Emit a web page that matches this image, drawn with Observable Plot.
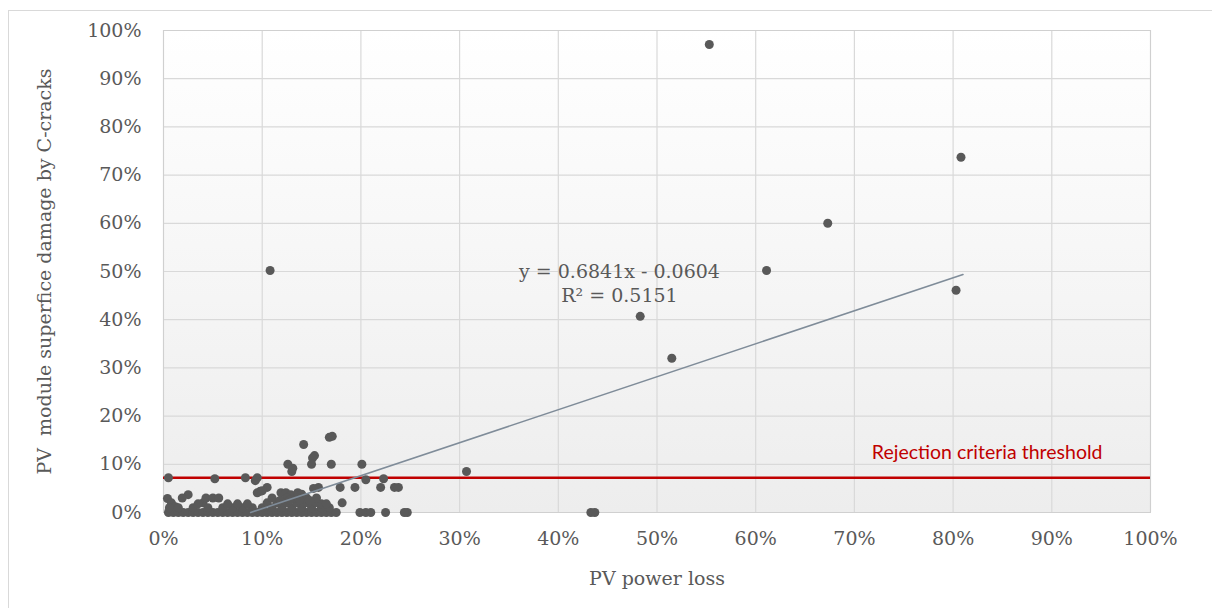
<!DOCTYPE html>
<html>
<head>
<meta charset="utf-8">
<script src="https://cdn.jsdelivr.net/npm/d3@7"></script>
<script src="https://cdn.jsdelivr.net/npm/@observablehq/plot@0.6"></script>
<style>
  html, body { margin: 0; padding: 0; background: #fff; overflow: hidden; }
  #wrap { position: relative; width: 1212px; height: 608px; }
  #border { position: absolute; left: 8px; top: 10px; width: 1230px; height: 640px; border: 1px solid #d9d9d9; box-sizing: border-box; }
  #chart { position: absolute; left: 0; top: 0; }
</style>
</head>
<body>
<div id="wrap"><div id="border"></div><div id="chart"></div></div>
<script>
// PV power loss (x) vs module surface damage by C-cracks (y)
const lossX = [
  0.553, 0.808, 0.673, 0.611, 0.803, 0.483, 0.515, 0.108, 0.307, 0.433, 0.437,
  0.168, 0.171, 0.142, 0.153, 0.151, 0.126, 0.150, 0.170, 0.201, 0.130, 0.131,
  0.205, 0.223, 0.005, 0.052, 0.083, 0.095, 0.093,
  0.179, 0.194, 0.220, 0.234, 0.238, 0.157, 0.152, 0.105, 0.098, 0.181,
  0.199, 0.205, 0.210, 0.225, 0.247, 0.244,
  0.004, 0.025, 0.019, 0.040, 0.043, 0.050, 0.056, 0.008, 0.012,
  0.095, 0.100, 0.119, 0.124, 0.129, 0.136, 0.140,
  0.005, 0.010, 0.015, 0.020, 0.025, 0.030, 0.035, 0.040, 0.045, 0.050, 0.055, 0.060,
  0.065, 0.070, 0.075, 0.080, 0.085, 0.090, 0.095, 0.100, 0.105, 0.110, 0.115, 0.120,
  0.125, 0.130, 0.135, 0.140, 0.145, 0.150, 0.155, 0.160, 0.165, 0.170, 0.175,
  0.006, 0.015, 0.030, 0.045, 0.060, 0.070, 0.080, 0.090, 0.100, 0.110, 0.120, 0.130,
  0.140, 0.150, 0.160, 0.168,
  0.035, 0.065, 0.075, 0.085, 0.105, 0.115, 0.125, 0.135, 0.142, 0.146, 0.155, 0.160, 0.165,
  0.110, 0.125, 0.135, 0.145, 0.155, 0.118, 0.128, 0.138, 0.148
];
const damageY = [
  0.971, 0.737, 0.600, 0.502, 0.461, 0.407, 0.320, 0.502, 0.085, 0.000, 0.000,
  0.156, 0.158, 0.141, 0.118, 0.113, 0.100, 0.100, 0.100, 0.100, 0.085, 0.092,
  0.068, 0.070, 0.072, 0.070, 0.072, 0.072, 0.066,
  0.052, 0.052, 0.052, 0.052, 0.052, 0.052, 0.050, 0.052, 0.044, 0.020,
  0.000, 0.000, 0.000, 0.000, 0.000, 0.000,
  0.029, 0.037, 0.030, 0.020, 0.030, 0.030, 0.030, 0.020, 0.012,
  0.041, 0.045, 0.041, 0.041, 0.037, 0.041, 0.038,
  0.000, 0.000, 0.000, 0.000, 0.000, 0.000, 0.000, 0.000, 0.000, 0.000, 0.000, 0.000,
  0.000, 0.000, 0.000, 0.000, 0.000, 0.000, 0.000, 0.000, 0.000, 0.000, 0.000, 0.000,
  0.000, 0.000, 0.000, 0.000, 0.000, 0.000, 0.000, 0.000, 0.000, 0.000, 0.000,
  0.010, 0.010, 0.010, 0.010, 0.010, 0.010, 0.010, 0.010, 0.010, 0.010, 0.010, 0.010,
  0.010, 0.010, 0.010, 0.010,
  0.018, 0.018, 0.018, 0.018, 0.020, 0.020, 0.020, 0.020, 0.020, 0.020, 0.020, 0.018, 0.018,
  0.030, 0.030, 0.030, 0.030, 0.030, 0.025, 0.026, 0.026, 0.025
];
const points = lossX.map((x, i) => ({x, y: damageY[i]}));

const xTicks = [0, 0.1, 0.2, 0.3, 0.4, 0.5, 0.6, 0.7, 0.8, 0.9, 1];
const yTicks = [0, 0.1, 0.2, 0.3, 0.4, 0.5, 0.6, 0.7, 0.8, 0.9, 1];

// Linear trend (Excel): y = 0.6841x - 0.0604, R² = 0.5151
const trendSlope = [0.6841];
const trendIntercept = [-0.0604];
const trendRangeX = [0.0883, 0.81];
const trendLine = trendRangeX.map(x => ({x, y: trendSlope[0] * x + trendIntercept[0]}));
const trendLabel = ["y = 0.6841x - 0.0604", "R² = 0.5151"];
const trendLabelPos = [{x: 0.462, y: 0.5}, {x: 0.462, y: 0.45}];

const thresholdY = [0.072];
const thresholdLabel = ["Rejection criteria threshold"];
const thresholdLabelPos = [{x: 0.8345, y: 0.124}];

const pct = d => Math.round(d * 100) + "%";
const serif = "DejaVu Serif";

const chart = Plot.plot({
  width: 1212,
  height: 608,
  marginLeft: 163,
  marginRight: 62,
  marginTop: 30,
  marginBottom: 96,
  style: {fontFamily: serif, fontSize: "19px", color: "#595959", background: "transparent", overflow: "visible"},
  x: {domain: [0, 1]},
  y: {domain: [0, 1]},
  marks: [
    Plot.frame({fill: "url(#plotbg)", stroke: "none"}),
    Plot.gridX(xTicks, {stroke: "#d9d9d9", strokeOpacity: 1, strokeWidth: 1.2}),
    Plot.gridY(yTicks, {stroke: "#d9d9d9", strokeOpacity: 1, strokeWidth: 1.2}),
    Plot.frame({stroke: "#d0d0d0", strokeWidth: 1}),
    Plot.axisX(xTicks, {tickSize: 0, tickPadding: 19, tickFormat: pct, fontSize: 19, fill: "#595959",
      label: "PV power loss", labelAnchor: "center", labelArrow: "none", labelOffset: 72}),
    Plot.axisY(yTicks, {tickSize: 0, tickPadding: 22, tickFormat: pct, fontSize: 19, fill: "#595959",
      label: "PV  module superfice damage by C-cracks", labelAnchor: "center", labelArrow: "none", labelOffset: 126}),
    Plot.ruleY(thresholdY, {stroke: "#c00000", strokeWidth: 2.5}),
    Plot.dot(points, {x: "x", y: "y", r: 4.5, fill: "#595959", stroke: "none"}),
    Plot.line(trendLine, {x: "x", y: "y", stroke: "#7f8c99", strokeWidth: 1.6}),
    Plot.text(trendLabel, {x: (d, i) => trendLabelPos[i].x, y: (d, i) => trendLabelPos[i].y, text: d => d,
      fontSize: 19, fill: "#595959", fontFamily: serif, textAnchor: "middle"}),
    Plot.text(thresholdLabel, {x: (d, i) => thresholdLabelPos[i].x, y: (d, i) => thresholdLabelPos[i].y, text: d => d,
      fontSize: 19.5, fill: "#c00000", fontFamily: "Lato", textAnchor: "middle"})
  ]
});

const defs = d3.select(chart).insert("defs", ":first-child");
const grad = defs.append("linearGradient").attr("id", "plotbg").attr("x1", 0).attr("y1", 0).attr("x2", 0).attr("y2", 1);
grad.append("stop").attr("offset", "0%").attr("stop-color", "#ffffff");
grad.append("stop").attr("offset", "100%").attr("stop-color", "#ededed");

document.getElementById("chart").appendChild(chart);
</script>
</body>
</html>
